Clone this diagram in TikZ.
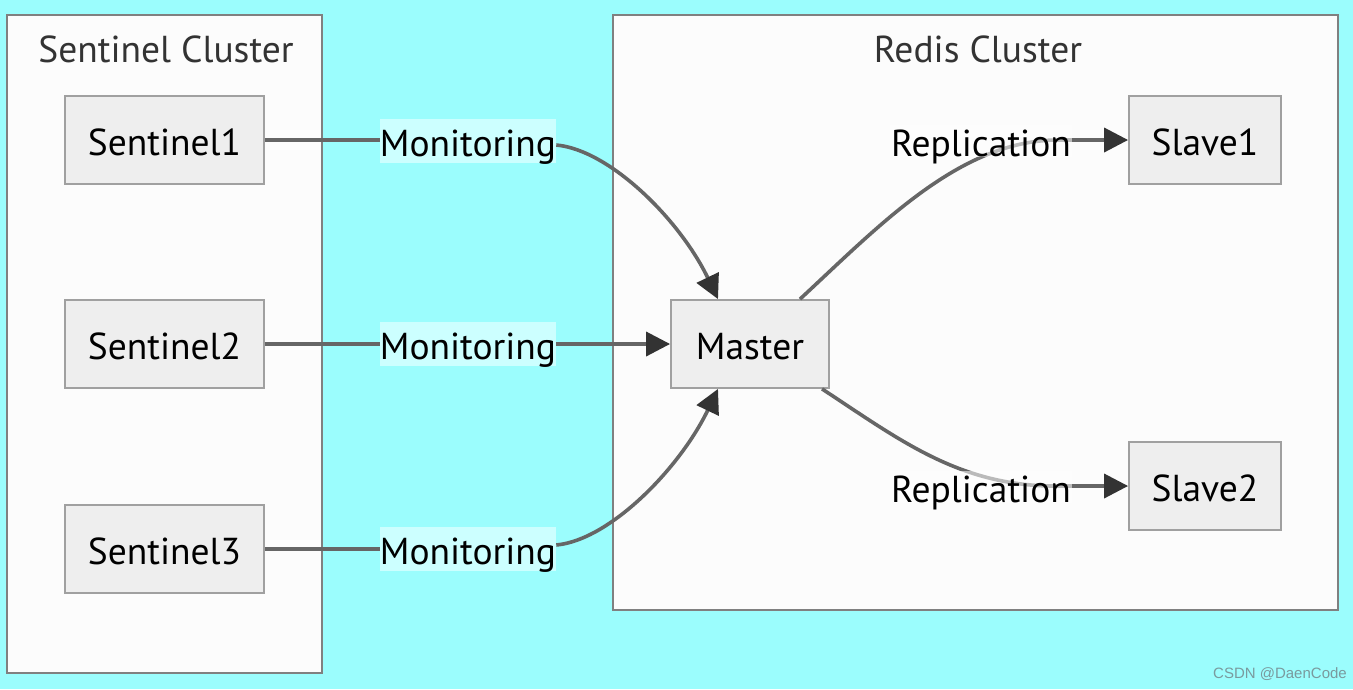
\documentclass[tikz,border=0pt]{standalone}
\usepackage{fontspec}
\setmainfont{PT Sans}
\setsansfont{Liberation Sans}
\usetikzlibrary{arrows.meta,calc}
\definecolor{bgcyan}{HTML}{9BFDFD}
\definecolor{clusterfill}{HTML}{FCFCFC}
\definecolor{clusterline}{HTML}{808080}
\definecolor{nodefill}{HTML}{EEEEEE}
\definecolor{nodeline}{HTML}{A0A0A0}
\definecolor{edgecol}{HTML}{666666}
\definecolor{tipcol}{HTML}{333333}
\definecolor{labcyan}{HTML}{CCFFFF}
\definecolor{titlecol}{HTML}{333333}
\definecolor{wmcol}{HTML}{7A9A9E}
\begin{document}
\begin{tikzpicture}[x=1pt,y=-1pt,
  txt/.style={font=\fontsize{37.5}{40}\selectfont,text height=30pt,text depth=0pt},
  cluster/.style={draw=clusterline,fill=clusterfill,line width=1.8pt},
  ctitle/.style={txt,text=titlecol,inner sep=0pt},
  nbox/.style={txt,draw=nodeline,fill=nodefill,line width=1.8pt,minimum height=88pt,
    text=black,inner sep=0pt},
  edge/.style={draw=edgecol,line width=3.6pt},
  arr/.style={edge,-{Triangle[length=24pt,width=24pt,color=tipcol]}},
  monlab/.style={txt,fill=labcyan,text=black,
    minimum width=175pt,minimum height=44pt,inner sep=0pt},
  replab/.style={txt,fill=white,fill opacity=0.55,text opacity=1,
    text=black,inner sep=1pt},
  wm/.style={font=\fontsize{15}{17}\selectfont\sffamily,text=wmcol}
]
\useasboundingbox (0,0) rectangle (1353,689);
\fill[bgcyan] (0,0) rectangle (1353,689);
% clusters
\draw[cluster] (7,15) rectangle (322,673);
\draw[cluster] (613,15) rectangle (1338,610);
\node[ctitle] (tsent) at (166,47) {Sentinel Cluster};
\node[ctitle] (tredis) at (978,47) {Redis Cluster};
% nodes
\node[nbox,minimum width=199pt] (s1) at (164.5,140) {Sentinel1};
\node[nbox,minimum width=199pt] (s2) at (164.5,344) {Sentinel2};
\node[nbox,minimum width=199pt] (s3) at (164.5,549) {Sentinel3};
\node[nbox,minimum width=158pt] (m) at (750,344) {Master};
\node[nbox,minimum width=152pt] (sl1) at (1205,140) {Slave1};
\node[nbox,minimum width=152pt] (sl2) at (1205,486) {Slave2};
% monitoring edges
\node[monlab] (l1) at (468,141) {Monitoring};
\node[monlab] (l2) at (468,344) {Monitoring};
\node[monlab] (l3) at (468,549) {Monitoring};
\draw[edge] (s1.east) -- (s1.east -| l1.west);
\draw[arr] ($(l1.east)+(0,4)$) .. controls (610,150) and (680,220) .. ($(m.north)+(-32,0)$);
\draw[edge] (s2.east) -- (l2.west);
\draw[arr] (l2.east) -- (m.west);
\draw[edge] (s3.east) -- (s3.east -| l3.west);
\draw[arr] ($(l3.east)+(0,-4)$) .. controls (610,540) and (680,468) .. ($(m.south)+(-32,0)$);
% replication edges
\coordinate (r1) at ($(sl1.west)+(-70,0)$);
\coordinate (r2) at ($(sl2.west)+(-70,0)$);
\draw[arr] ($(m.north)+(50,0)$) .. controls (880,225) and (960,140) .. (r1) -- (sl1.west);
\draw[arr] ($(m.south)+(72,0)$) .. controls (900,440) and (960,487) .. (r2) -- (sl2.west);
\node[replab] (rl1) at (981,141) {Replication};
\node[replab] (rl2) at (981,487) {Replication};
% watermark
\node[wm] (wmk) at (1280,674) {CSDN @DaenCode};
\end{tikzpicture}
\end{document}
